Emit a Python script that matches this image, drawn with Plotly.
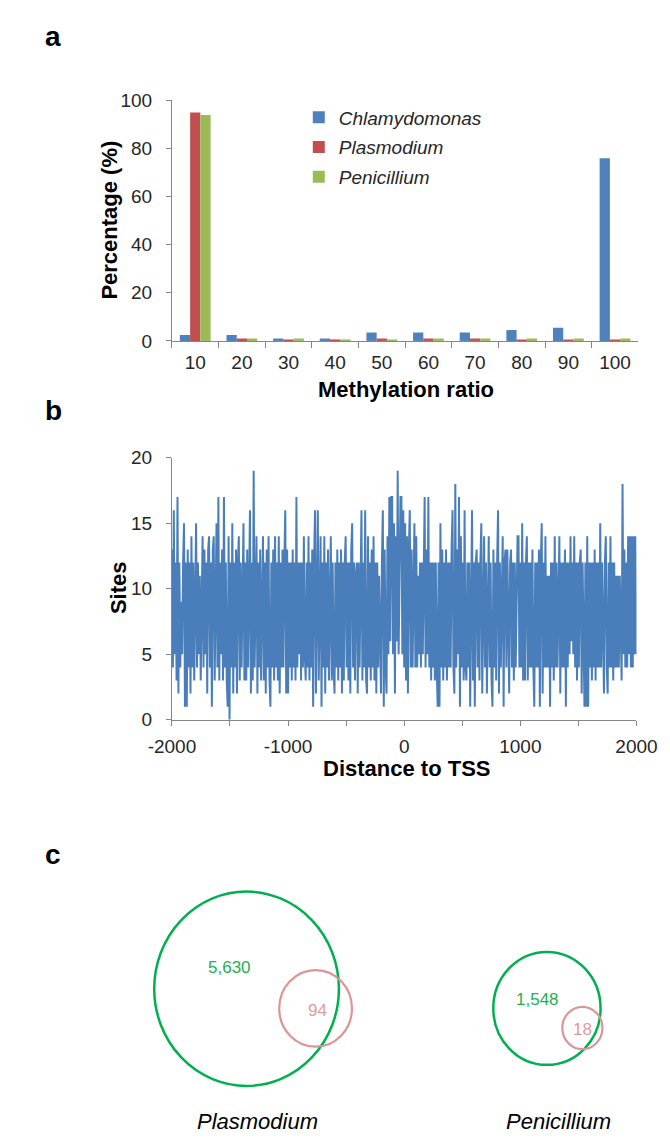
import plotly.graph_objects as go

W, H = 670, 1138

# ---------------- data ----------------
ratio_bins = ["10", "20", "30", "40", "50", "60", "70", "80", "90", "100"]
chlamydomonas = [2.5, 2.5, 1, 1, 3.5, 3.5, 3.5, 4.5, 5.5, 76]
plasmodium = [95, 1, 0.5, 0.5, 1, 1, 1, 0.5, 0.5, 0.5]
penicillium = [94, 1, 1, 0.5, 0.5, 1, 1, 1, 1, 1]

tss_start, tss_end, tss_step = -2000, 2000, 8
sites = [
    13, 4, 16, 5, 12, 3, 17, 2, 12, 4, 9, 5, 12, 15, 1, 12, 1, 13, 4, 12,
    2, 14, 4, 12, 3, 13, 15, 4, 12, 5, 11, 3, 12, 14, 4, 13, 5, 12, 2, 13,
    14, 4, 12, 1, 13, 14, 3, 12, 15, 4, 17, 3, 12, 5, 13, 3, 17, 4, 12, 3,
    1, 14, 0, 12, 4, 15, 2, 12, 4, 13, 2, 12, 14, 3, 12, 4, 13, 15, 3, 12,
    3, 13, 4, 12, 16, 2, 12, 3, 19, 4, 12, 14, 2, 12, 4, 13, 3, 12, 14, 3,
    12, 2, 13, 4, 14, 3, 1, 12, 4, 13, 3, 14, 4, 12, 3, 14, 2, 12, 4, 13,
    4, 12, 16, 2, 13, 2, 12, 4, 12, 3, 13, 4, 12, 3, 17, 4, 12, 5, 12, 3,
    12, 4, 14, 5, 3, 12, 4, 14, 3, 12, 4, 13, 1, 12, 16, 2, 12, 16, 3, 12,
    14, 1, 12, 4, 14, 2, 12, 4, 13, 3, 12, 14, 3, 12, 4, 2, 12, 4, 13, 3,
    12, 4, 13, 2, 12, 3, 12, 14, 4, 12, 3, 12, 2, 13, 15, 4, 12, 3, 11, 12,
    2, 12, 4, 13, 16, 3, 12, 4, 16, 3, 2, 14, 4, 12, 3, 13, 4, 14, 3, 12,
    2, 12, 4, 11, 4, 2, 12, 16, 1, 13, 4, 2, 14, 5, 17, 6, 17, 17, 5, 15,
    2, 14, 6, 19, 5, 14, 17, 17, 5, 16, 4, 15, 3, 14, 2, 13, 16, 4, 13, 4,
    13, 15, 4, 14, 4, 11, 5, 12, 4, 12, 5, 11, 17, 4, 13, 5, 17, 4, 12, 3,
    12, 4, 12, 3, 12, 4, 1, 12, 1, 15, 4, 13, 3, 12, 4, 13, 3, 12, 4, 12,
    4, 13, 16, 4, 2, 18, 4, 13, 5, 17, 1, 14, 4, 12, 3, 16, 4, 3, 12, 4,
    12, 1, 12, 16, 3, 12, 1, 12, 13, 4, 12, 3, 12, 15, 2, 12, 14, 4, 12, 2,
    12, 14, 4, 12, 3, 1, 13, 4, 12, 3, 12, 16, 2, 12, 4, 12, 14, 1, 12, 13,
    4, 13, 4, 2, 12, 13, 4, 12, 3, 12, 4, 12, 14, 14, 4, 12, 4, 15, 3, 12,
    3, 12, 14, 3, 12, 4, 12, 4, 13, 4, 1, 12, 4, 12, 4, 13, 1, 12, 15, 2,
    12, 4, 14, 4, 11, 4, 11, 1, 12, 4, 12, 3, 14, 4, 12, 4, 12, 14, 2, 12,
    4, 12, 4, 13, 1, 12, 4, 12, 5, 14, 6, 12, 5, 14, 4, 12, 3, 12, 4, 12,
    13, 2, 12, 4, 1, 12, 1, 14, 1, 12, 4, 12, 3, 12, 4, 13, 3, 12, 4, 12,
    4, 15, 4, 12, 4, 2, 12, 14, 4, 2, 12, 4, 14, 4, 12, 3, 12, 4, 11, 4,
    11, 4, 11, 5, 3, 18, 5, 13, 4, 12, 4, 14, 5, 14, 4, 14, 4, 14, 5, 14,
    5,
]
tss_pos = list(range(tss_start, tss_end + 1, tss_step))
tss_ticks = [-2000, -1500, -1000, -500, 0, 500, 1000, 1500, 2000]
tss_ticklabels = ["-2000", "", "-1000", "", "0", "", "1000", "", "2000"]

venn_species = ["Plasmodium", "Penicillium"]
venn_total = [5630, 1548]
venn_overlap = [94, 18]

# ---------------- helpers ----------------
def px(x):
    return x / W


def py(y):
    return 1 - y / H


FONT = "Liberation Sans, Arial, sans-serif"
AXC = "#868686"
TXT = "#262626"
BLUE, RED, GREEN = "#4F81BD", "#C0504D", "#9BBB59"

fig = go.Figure()

# ---------------- panel a ----------------
for name, vals, col, g in [
    ("Chlamydomonas", chlamydomonas, BLUE, "g1"),
    ("Plasmodium", plasmodium, RED, "g2"),
    ("Penicillium", penicillium, GREEN, "g3"),
]:
    fig.add_trace(go.Bar(x=ratio_bins, y=vals, name=name, marker_color=col,
                         marker_line_width=0, xaxis="x", yaxis="y",
                         legendgroup=g))

# ---------------- panel b ----------------
fig.add_trace(go.Scatter(x=tss_pos, y=sites, mode="lines",
                         line=dict(color="#4A7EBB", width=2),
                         xaxis="x2", yaxis="y2", showlegend=False))

axis_common = dict(showline=True, linecolor=AXC, linewidth=1, ticks="outside",
                   tickcolor=AXC, ticklen=5, showgrid=False, zeroline=False,
                   tickfont=dict(family=FONT, size=19, color=TXT))

fig.update_layout(
    width=W, height=H,
    margin=dict(l=0, r=0, t=0, b=0),
    paper_bgcolor="white", plot_bgcolor="white",
    barmode="group", bargap=0.34, bargroupgap=0,
    showlegend=True,
    legend=dict(x=px(286), y=py(82), xanchor="left", yanchor="top",
                font=dict(family=FONT, size=19, color=TXT, style="italic"),
                bgcolor="rgba(0,0,0,0)", tracegroupgap=2, itemwidth=30),
    xaxis=dict(domain=[px(150), px(650)], anchor="y", type="category",
               tickson="boundaries", ticklen=6, ticklabelstandoff=4,
               **{k: v for k, v in axis_common.items() if k != "ticklen"}),
    yaxis=dict(domain=[py(329), py(84)], anchor="x", range=[0, 100], dtick=20,
               ticklabelstandoff=10, **axis_common),
    xaxis2=dict(domain=[px(150), px(648)], anchor="y2", range=[-2000, 2000],
                tickvals=tss_ticks, ticktext=tss_ticklabels, ticklabelstandoff=4,
                **axis_common),
    yaxis2=dict(domain=[py(715), py(448)], anchor="x2", range=[0, 20], dtick=5,
                ticklabelstandoff=10, **axis_common),
)

ann = []


def text(x, y, s, size, bold=False, italic=False, color=TXT, angle=0, xanchor="center"):
    ann.append(dict(x=px(x), y=py(y), xref="paper", yref="paper", text=s,
                    showarrow=False, textangle=angle, xanchor=xanchor, yanchor="middle",
                    font=dict(family=FONT, size=size, color=color,
                              weight="bold" if bold else "normal",
                              style="italic" if italic else "normal")))


# panel labels
text(23, 19, "a", 28, bold=True, color="black")
text(23, 400, "b", 28, bold=True, color="black")
text(23, 852, "c", 28, bold=True, color="black")

# axis titles
text(83, 206, "Percentage (%)", 22, bold=True, color="black", angle=-90)
text(401, 378, "Methylation ratio", 22, bold=True, color="black")
text(92, 580, "Sites", 22, bold=True, color="black", angle=-90)
text(401, 765, "Distance to TSS", 22, bold=True, color="black")

# ---------------- panel c (Venn) ----------------
VGREEN = "#00B050"
VPINK = "#D99694"
venn_geom = [
    # (big cx, cy, r), (small cx, cy, r), total label pos, overlap label pos, name pos
    ((230, 989, 99), (304, 1009, 39), (212, 967), (306, 1011), (242, 1124)),
    ((552, 1009, 57.5), (590, 1029, 21.5), (542, 1000), (590, 1031), (564, 1124)),
]
shapes = []
for sp, tot, ov, geom in zip(venn_species, venn_total, venn_overlap, venn_geom):
    (bx, by, br), (sx, sy, sr), tpos, opos, npos = geom
    shapes.append(dict(type="circle", xref="paper", yref="paper",
                       x0=px(bx - br), x1=px(bx + br), y0=py(by + br), y1=py(by - br),
                       line=dict(color=VGREEN, width=2.5)))
    shapes.append(dict(type="circle", xref="paper", yref="paper",
                       x0=px(sx - sr), x1=px(sx + sr), y0=py(sy + sr), y1=py(sy - sr),
                       line=dict(color=VPINK, width=2.2)))
    text(tpos[0], tpos[1], f"{tot:,}", 17, color="#22B04F")
    text(opos[0], opos[1], f"{ov:,}", 17, color="#E39A9A")
    text(npos[0], npos[1], sp, 22, italic=True, color="black")

fig.update_layout(annotations=ann, shapes=shapes)

fig.write_html("out.html")
